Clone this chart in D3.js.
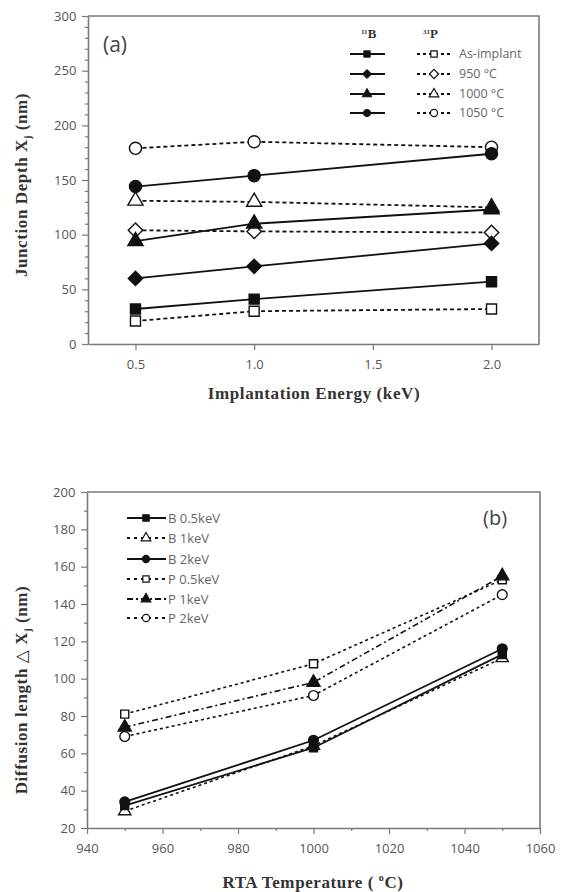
<!DOCTYPE html>
<html>
<head>
<meta charset="utf-8">
<script src="https://cdn.jsdelivr.net/npm/d3@7"></script>
<style>
  body { margin: 0; background: #fff; }
  svg { display: block; }
</style>
</head>
<body>
<div id="chart"></div>
<script>
// panel (a): junction depth vs implantation energy
const energies = [0.5, 1.0, 2.0];
const energyTicks = [0.5, 1.0, 1.5, 2.0];
const depthTicks = [0, 50, 100, 150, 200, 250, 300];
const bAsImplant = [32, 41, 57];
const b950 = [60, 71, 92];
const b1000 = [94, 110, 123];
const b1050 = [144, 154, 174];
const pAsImplant = [21, 30, 32];
const p950 = [104, 103, 102];
const p1000 = [131, 130, 125];
const p1050 = [179, 185, 180];
const legendLabelsA = ["As-implant", "950 \u00B0C", "1000 \u00B0C", "1050 \u00B0C"];

// panel (b): diffusion length vs RTA temperature
const rtaTemps = [950, 1000, 1050];
const tempTicks = [940, 960, 980, 1000, 1020, 1040, 1060];
const diffTicks = [20, 40, 60, 80, 100, 120, 140, 160, 180, 200];
const bHalfKeV = [32, 63, 113];
const bOneKeV = [29, 64, 111];
const bTwoKeV = [34, 67, 116];
const pHalfKeV = [81, 108, 153];
const pOneKeV = [74, 98, 155];
const pTwoKeV = [69, 91, 145];
const legendLabelsB = ["B 0.5keV", "B 1keV", "B 2keV", "P 0.5keV", "P 1keV", "P 2keV"];

const W = 563, H = 892;
const svg = d3.select("#chart").append("svg").attr("width", W).attr("height", H);

const ink = "#111";
const frameCol = "#7a7a7a";
const tickFont = "'Open Sans', 'Liberation Sans', sans-serif";
const titleFont = "'Liberation Serif', 'DejaVu Serif', serif";

function marker(shape, size){
    if(shape === "diamond"){
        const r = Math.sqrt(size) * 0.72;
        return `M0,${-r}L${r},0L0,${r}L${-r},0Z`;
    }
    const type = {square: d3.symbolSquare, circle: d3.symbolCircle, triangle: d3.symbolTriangle}[shape];
    return d3.symbol().type(type).size(size)();
}

function drawFrame(g, x, y, xTicks, xMinor, yTicks, yMinor, xFmt, yFmt){
    const [x0, x1] = x.range();
    const [y0, y1] = y.range();
    // frame top/right
    g.append("path")
        .attr("d", `M${x0},${y1}H${x1}V${y0}`)
        .attr("fill", "none").attr("stroke", frameCol).attr("stroke-width", 1.6);

    const xAxis = d3.axisBottom(x).tickValues(xTicks).tickSize(6).tickSizeOuter(0).tickFormat(xFmt);
    const yAxis = d3.axisLeft(y).tickValues(yTicks).tickSize(6).tickSizeOuter(0).tickFormat(yFmt);

    const gx = g.append("g").attr("transform", `translate(0,${y0})`).call(xAxis);
    const gy = g.append("g").attr("transform", `translate(${x0},0)`).call(yAxis);

    if(xMinor.length){
        g.append("g").attr("transform", `translate(0,${y0})`)
            .call(d3.axisBottom(x).tickValues(xMinor).tickSize(3).tickFormat(""))
            .select(".domain").remove();
    }
    if(yMinor.length){
        g.append("g").attr("transform", `translate(${x0},0)`)
            .call(d3.axisLeft(y).tickValues(yMinor).tickSize(3).tickFormat(""))
            .select(".domain").remove();
    }
    g.selectAll(".domain").attr("stroke", frameCol).attr("stroke-width", 1.6);
    g.selectAll(".tick line").attr("stroke", frameCol).attr("stroke-width", 1.2);
    gx.selectAll("text").attr("font-family", tickFont).attr("font-size", 13).attr("fill", "#555").attr("dy", "1.2em");
    gy.selectAll("text").attr("font-family", tickFont).attr("font-size", 13).attr("fill", "#555").attr("dx", "-0.2em");
}

function drawSeries(g, x, y, xs, ys, s){
    const line = d3.line().x((d, i) => x(xs[i])).y(d => y(d));
    g.append("path")
        .datum(ys)
        .attr("d", line)
        .attr("fill", "none")
        .attr("stroke", ink)
        .attr("stroke-width", s.width || 1.8)
        .attr("stroke-dasharray", s.dash || null);
    g.selectAll(null)
        .data(ys)
        .join("path")
        .attr("d", marker(s.shape, s.size))
        .attr("transform", (d, i) => `translate(${x(xs[i])},${y(d)})`)
        .attr("fill", s.filled ? ink : "#fff")
        .attr("stroke", ink)
        .attr("stroke-width", 1.4);
}

function axisTitle(g, x, y, rotate){
    return g.append("text")
        .attr("transform", `translate(${x},${y})` + (rotate ? " rotate(-90)" : ""))
        .attr("text-anchor", "middle")
        .attr("font-family", titleFont).attr("font-weight", "bold")
        .attr("font-size", 17).attr("letter-spacing", 0.6).attr("fill", "#333");
}

// ---------- panel (a) ----------
const gA = svg.append("g");
const xA = d3.scaleLinear().domain([0.3, 2.2]).range([88, 539]);
const yA = d3.scaleLinear().domain([0, 300]).range([344, 16]);
drawFrame(gA, xA, yA, energyTicks, [], depthTicks, d3.range(10, 300, 10).filter(v => v % 50),
    d3.format(".1f"), d3.format("d"));

const dashA = "4,3";
const seriesA = [
    {v: pAsImplant, shape: "square", filled: false, dash: dashA, size: 100},
    {v: p950, shape: "diamond", filled: false, dash: dashA, size: 100},
    {v: p1000, shape: "triangle", filled: false, dash: dashA, size: 100},
    {v: p1050, shape: "circle", filled: false, dash: dashA, size: 115},
    {v: bAsImplant, shape: "square", filled: true, size: 100},
    {v: b950, shape: "diamond", filled: true, size: 100},
    {v: b1000, shape: "triangle", filled: true, size: 100},
    {v: b1050, shape: "circle", filled: true, size: 115},
];
seriesA.forEach(s => drawSeries(gA, xA, yA, energies, s.v, s));

gA.append("text").attr("x", 103).attr("y", 52)
    .attr("font-family", tickFont).attr("font-size", 21).attr("fill", "#444").text("(a)");

// legend (a)
const legA = gA.append("g").attr("font-family", tickFont).attr("font-size", 12.5).attr("fill", "#666");
const headB = legA.append("text").attr("x", 361).attr("y", 38)
    .attr("font-family", titleFont).attr("font-weight", "bold").attr("fill", "#333").attr("font-size", 13);
headB.append("tspan").attr("font-size", 7).attr("dy", -4).text("11");
headB.append("tspan").attr("dy", 4).text("B");
const headP = legA.append("text").attr("x", 423).attr("y", 38)
    .attr("font-family", titleFont).attr("font-weight", "bold").attr("fill", "#333").attr("font-size", 13);
headP.append("tspan").attr("font-size", 7).attr("dy", -4).text("31");
headP.append("tspan").attr("dy", 4).text("P");

const legRowsA = [54, 74, 94, 113];
const legShapesA = ["square", "diamond", "triangle", "circle"];
legRowsA.forEach((ly, i) => {
    legA.append("line").attr("x1", 350).attr("x2", 385).attr("y1", ly).attr("y2", ly)
        .attr("stroke", ink).attr("stroke-width", 1.8);
    legA.append("path").attr("d", marker(legShapesA[i], 40))
        .attr("transform", `translate(367,${ly})`).attr("fill", ink).attr("stroke", ink);
    legA.append("line").attr("x1", 417).attr("x2", 453).attr("y1", ly).attr("y2", ly)
        .attr("stroke", ink).attr("stroke-width", 1.8).attr("stroke-dasharray", "3,3");
    legA.append("path").attr("d", marker(legShapesA[i], 40))
        .attr("transform", `translate(434,${ly})`).attr("fill", "#fff").attr("stroke", ink).attr("stroke-width", 1.2);
    legA.append("text").attr("x", 459).attr("y", ly + 4).text(legendLabelsA[i]);
});

// axis titles (a)
const ylabA = axisTitle(gA, 27, 185, true);
ylabA.append("tspan").text("Junction Depth X");
ylabA.append("tspan").attr("font-size", 10).attr("dy", 4).text("j");
ylabA.append("tspan").attr("dy", -4).text(" (nm)");

axisTitle(gA, 314, 399, false).text("Implantation Energy (keV)");

// ---------- panel (b) ----------
const gB = svg.append("g");
const xB = d3.scaleLinear().domain([940, 1060]).range([87, 540]);
const yB = d3.scaleLinear().domain([20, 200]).range([828, 492]);
drawFrame(gB, xB, yB, tempTicks, d3.range(950, 1060, 20), diffTicks, d3.range(30, 200, 20),
    d3.format("d"), d3.format("d"));

const seriesB = [
    {v: bOneKeV, shape: "triangle", filled: false, dash: "3,3", size: 65, width: 1.6},
    {v: bHalfKeV, shape: "square", filled: true, size: 65, width: 1.8},
    {v: bTwoKeV, shape: "circle", filled: true, size: 75, width: 1.8},
    {v: pTwoKeV, shape: "circle", filled: false, dash: "3,3", size: 75, width: 1.6},
    {v: pHalfKeV, shape: "square", filled: false, dash: "3,3", size: 65, width: 1.6},
    {v: pOneKeV, shape: "triangle", filled: true, dash: "6,3,2,3", size: 75, width: 1.6},
];
seriesB.forEach(s => drawSeries(gB, xB, yB, rtaTemps, s.v, s));

gB.append("text").attr("x", 483).attr("y", 525)
    .attr("font-family", tickFont).attr("font-size", 20).attr("fill", "#444").text("(b)");

// legend (b)
const legB = gB.append("g").attr("font-family", tickFont).attr("font-size", 13).attr("fill", "#666");
const legRowsB = [518, 538, 559, 579, 599, 618];
const legStyleB = [
    {shape: "square", filled: true, dash: null},
    {shape: "triangle", filled: false, dash: "3,4"},
    {shape: "circle", filled: true, dash: null},
    {shape: "square", filled: false, dash: "3,4"},
    {shape: "triangle", filled: true, dash: "6,3,2,3"},
    {shape: "circle", filled: false, dash: "3,4"},
];
legRowsB.forEach((ly, i) => {
    const st = legStyleB[i];
    legB.append("line").attr("x1", 127).attr("x2", 166).attr("y1", ly).attr("y2", ly)
        .attr("stroke", ink).attr("stroke-width", 1.8).attr("stroke-dasharray", st.dash);
    legB.append("path").attr("d", marker(st.shape, 40))
        .attr("transform", `translate(146,${ly})`)
        .attr("fill", st.filled ? ink : "#fff").attr("stroke", ink).attr("stroke-width", 1.2);
    legB.append("text").attr("x", 168).attr("y", ly + 5).text(legendLabelsB[i]);
});

// axis titles (b)
const ylabB = axisTitle(gB, 27, 690, true);
ylabB.append("tspan").text("Diffusion  length \u25B3 X");
ylabB.append("tspan").attr("font-size", 10).attr("dy", 4).text("j");
ylabB.append("tspan").attr("dy", -4).text(" (nm)");

const xlabB = axisTitle(gB, 313, 888, false);
xlabB.append("tspan").text("RTA Temperature ( ");
xlabB.append("tspan").attr("font-size", 10).attr("dy", -7).text("o");
xlabB.append("tspan").attr("dy", 7).text("C)");
</script>
</body>
</html>
